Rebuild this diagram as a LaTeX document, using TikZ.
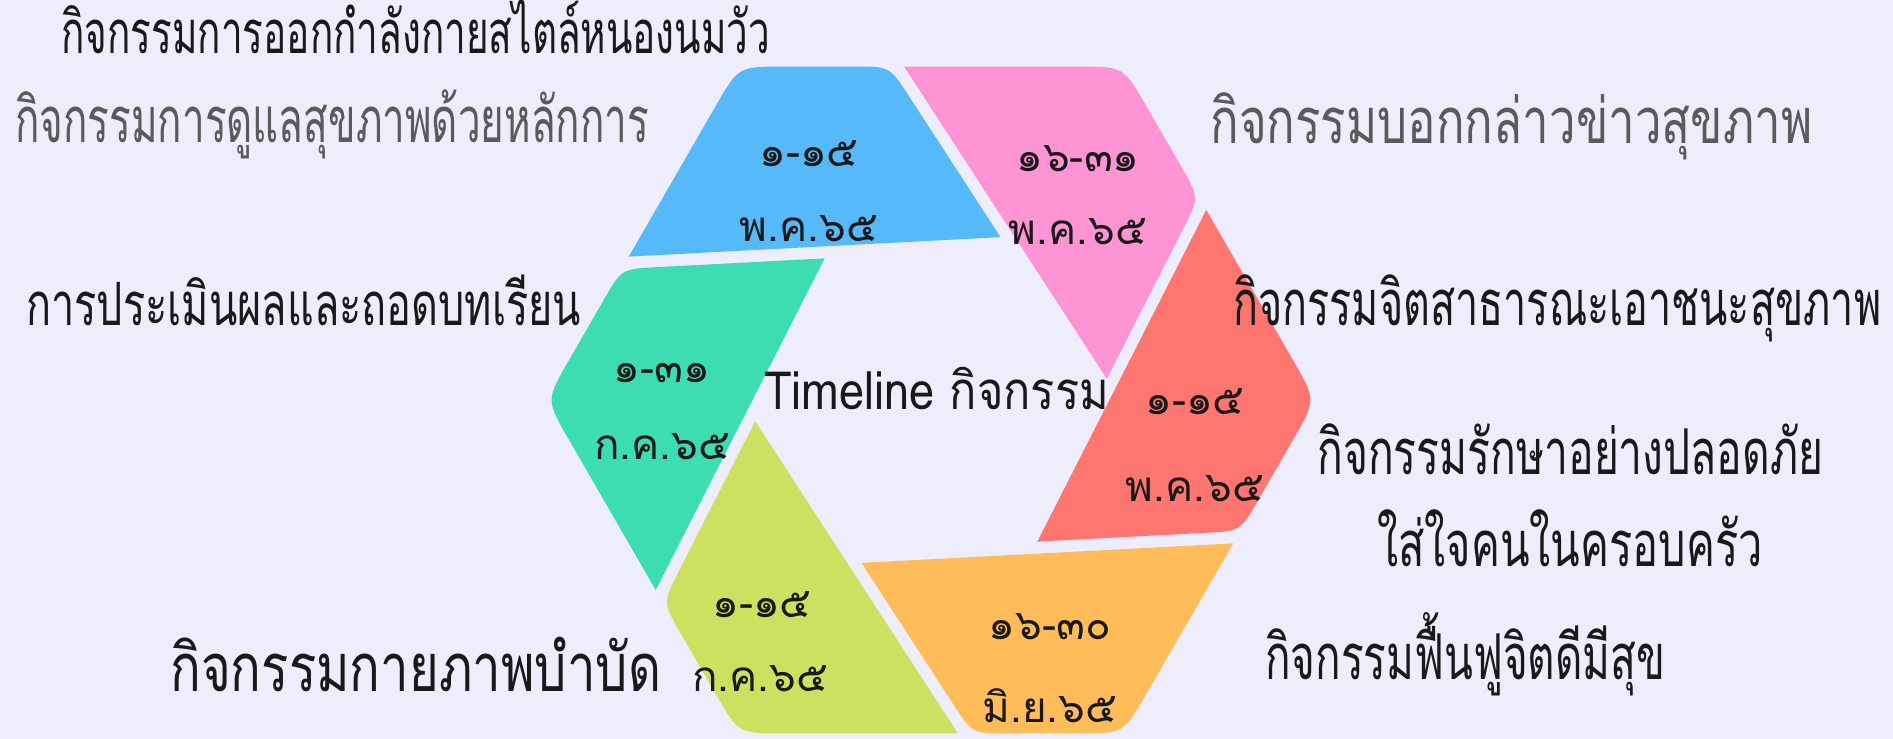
\documentclass[tikz,border=0pt]{standalone}
\usepackage{fontspec}
\setmainfont{Loma}[Script=Thai]
\usepackage{graphicx}
\usetikzlibrary{calc}
\definecolor{bgc}{RGB}{238,237,252}
\definecolor{cblue}{RGB}{86,186,250}
\definecolor{cpink}{RGB}{255,148,212}
\definecolor{cred}{RGB}{255,117,112}
\definecolor{corange}{RGB}{255,188,88}
\definecolor{cyellow}{RGB}{205,224,96}
\definecolor{cgreen}{RGB}{60,221,178}
\definecolor{tdark}{RGB}{25,25,25}
\definecolor{tgray}{RGB}{90,90,90}
\newcommand{\fitw}[3]{\resizebox{#1}{\height}{\fontsize{#2}{#2}\selectfont #3}}
\begin{document}
\begin{tikzpicture}[x=0.02cm,y=0.02cm,
  lbl/.style={font=\fontsize{24}{24}\selectfont, text=tdark, inner sep=0pt, anchor=base},
  side/.style={inner sep=0pt, anchor=base west, text=tdark}]
\fill[bgc] (-931,-339) rectangle (962,400);
\useasboundingbox (-931,-339) rectangle (962,400);
\foreach \j in {0,...,7}{\coordinate (V\j) at ({60*\j}:385);}
\foreach \k in {0,...,5}{
  \pgfmathsetmacro\na{33+60*\k}
  \pgfmathsetmacro\nb{\na+90}
  \pgfmathsetmacro\nc{\na-90}
  \coordinate (Oa\k) at ($(\na:159)+(\nb:300)$);
  \coordinate (Ob\k) at ($(\na:159)+(\nc:300)$);
  \coordinate (Ia\k) at ($(\na:147)+(\nb:300)$);
  \coordinate (Ib\k) at ($(\na:147)+(\nc:300)$);
}
\foreach \k/\col in {0/cpink,1/cblue,2/cgreen,3/cyellow,4/corange,5/cred}{
  \pgfmathtruncatemacro\km{mod(\k+5,6)}
  \pgfmathtruncatemacro\kp{\k+1}
  \pgfmathtruncatemacro\kq{\k+2}
  \edef\tmp{\noexpand\coordinate (P\k) at (intersection of Oa\k--Ob\k\space and Ia\km--Ib\km);
    \noexpand\coordinate (A\k) at (intersection of Oa\k--Ob\k\space and V\kp--V\kq);
    \noexpand\coordinate (B\k) at (intersection of Ia\km--Ib\km\space and V\k--V\kp);}
  \tmp
  \fill[\col] (P\k) -- (A\k) -- ($(V\kp)!0.9cm!(A\k)$) .. controls (V\kp) .. ($(V\kp)!0.9cm!(B\k)$)
     -- ($(B\k)!0.7cm!(V\kp)$) .. controls (B\k) .. ($(B\k)!0.7cm!(P\k)$) -- cycle;
}
% blade labels
\node[lbl] (b1a) at (-122,233) {๑-๑๕};
\node[lbl] (b1b) at (-122,158) {พ.ค.๖๕};
\node[lbl] (b0a) at (147,228) {๑๖-๓๑};
\node[lbl] (b0b) at (147,155) {พ.ค.๖๕};
\node[lbl] (b2a) at (-269,17) {๑-๓๑};
\node[lbl] (b2b) at (-269,-60) {ก.ค.๖๕};
\node[lbl] (b3a) at (-169,-218) {๑-๑๕};
\node[lbl] (b3b) at (-171,-292) {ก.ค.๖๕};
\node[lbl] (b4a) at (119,-240) {๑๖-๓๐};
\node[lbl] (b4b) at (119,-323) {มิ.ย.๖๕};
\node[lbl] (b5a) at (264,-15) {๑-๑๕};
\node[lbl] (b5b) at (264,-102) {พ.ค.๖๕};
% side texts
\node[side] (t1) at (-870,346) {\fitw{14.18cm}{34}{กิจกรรมการออกกำลังกายสไตล์หนองนมวัว}};
\node[side, text=tgray] (t2) at (-916,257) {\fitw{12.68cm}{36}{กิจกรรมการดูแลสุขภาพด้วยหลักการ}};
\node[side, text=tgray] (t3) at (279,256) {\fitw{12.04cm}{36}{กิจกรรมบอกกล่าวข่าวสุขภาพ}};
\node[side] (t4) at (-905,74) {\fitw{11.1cm}{34}{การประเมินผลและถอดบทเรียน}};
\node[side] (t5) at (302,74) {\fitw{12.96cm}{36}{กิจกรรมจิตสาธารณะเอาชนะสุขภาพ}};
\node[side] (t6) at (-167,-10) {\fitw{6.9cm}{30}{Timeline กิจกรรม}};
\node[side] (t7) at (386,-75) {\fitw{10.12cm}{36}{กิจกรรมรักษาอย่างปลอดภัย}};
\node[inner sep=0pt, anchor=base, text=tdark] (t8) at (639,-167) {\fitw{7.72cm}{36}{ใส่ใจคนในครอบครัว}};
\node[side] (t9) at (-761,-292) {\fitw{9.82cm}{38}{กิจกรรมกายภาพบำบัด}};
\node[side] (t10) at (334,-280) {\fitw{8cm}{36}{กิจกรรมฟื้นฟูจิตดีมีสุข}};
\end{tikzpicture}
\end{document}
